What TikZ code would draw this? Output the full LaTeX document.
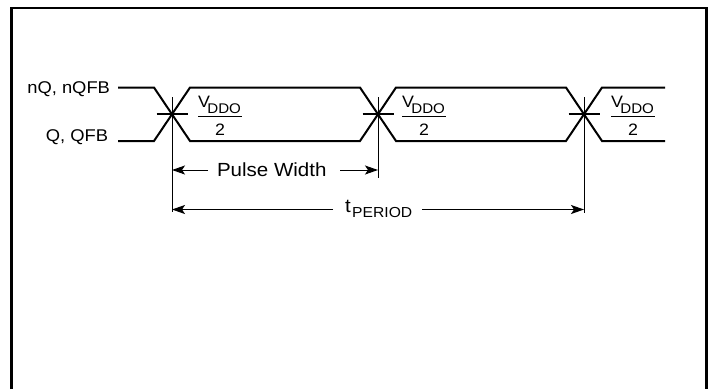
\documentclass[tikz,border=0pt]{standalone}
\usepackage{fontspec}
\setmainfont{Liberation Sans}[FakeStretch=1.08]
\usetikzlibrary{arrows.meta}
\begin{document}
\begin{tikzpicture}[x=1pt,y=-1pt,
  frame/.style={line width=2.8pt},
  sig/.style={line width=2pt, line join=miter},
  tick/.style={line width=1.6pt},
  guide/.style={line width=1pt},
  dim/.style={line width=1pt, -{Stealth[length=13pt,width=9pt,inset=3pt]}},
  bar/.style={line width=1.8pt},
  lbl/.style={inner sep=0pt, outer sep=0pt}]
\useasboundingbox (0,0) rectangle (709,389);
% frame
\draw[frame] (11.3,389) -- (11.3,8) -- (706.5,8) -- (706.5,389);
% crossing points
\coordinate (c1) at (172,114);
\coordinate (c2) at (378,114);
\coordinate (c3) at (584,114);
% signal labels
\node[lbl, anchor=base east] (nq) at (110,93) {\fontsize{17}{20}\selectfont nQ, nQFB};
\node[lbl, anchor=base east] (q) at (108,141.5) {\fontsize{17}{20}\selectfont Q, QFB};
% waveforms
\draw[sig] (118,87.5) -- (154,87.5) -- (190,141) -- (360,141) -- (396,87.5) -- (566,87.5) -- (602,141) -- (665,141);
\draw[sig] (118,141) -- (154,141) -- (190,87.5) -- (360,87.5) -- (396,141) -- (566,141) -- (602,87.5) -- (665,87.5);
% crossing ticks
\foreach \c in {c1,c2,c3}{
  \draw[tick] ([xshift=-15.5pt]\c) -- ([xshift=15.5pt]\c);
}
% guide lines
\draw[guide] ([yshift=17pt]c1) -- ([yshift=-98pt]c1);
\draw[guide] ([yshift=17pt]c2) -- ([yshift=-64pt]c2);
\draw[guide] ([yshift=17pt]c3) -- ([yshift=-99pt]c3);
% VDDO/2 fractions
\foreach \n/\fx in {1/220,2/424,3/633}{
  \node[lbl, anchor=base west] (v\n) at (\fx-22,107) {\fontsize{16.5}{18}\selectfont V\kern-2.5pt\raisebox{-6pt}{\fontsize{14}{16}\selectfont DDO}};
  \draw[bar] (\fx-22,116.5) -- (\fx+22,116.5);
  \node[lbl, anchor=base] (two\n) at (\fx,135) {\fontsize{16.5}{18}\selectfont 2};
}
% pulse width
\node[lbl, anchor=base west] (pw) at (217,176.7) {\fontsize{19}{22}\selectfont Pulse Width};
\coordinate (pwl) at (208,170);
\coordinate (pwr) at (340,170);
\draw[dim] (pwl) -- (pwl -| c1);
\draw[dim] (pwr) -- (pwr -| c2);
% period
\node[lbl, anchor=base west] (tp) at (345,212.7) {\fontsize{19}{22}\selectfont t\kern1.5pt\raisebox{-4.6pt}{\fontsize{14.5}{16}\selectfont PERIOD}};
\coordinate (tpl) at (333,209.5);
\coordinate (tpr) at (422,209.5);
\draw[dim] (tpl) -- (tpl -| c1);
\draw[dim] (tpr) -- (tpr -| c3);
\end{tikzpicture}
\end{document}
